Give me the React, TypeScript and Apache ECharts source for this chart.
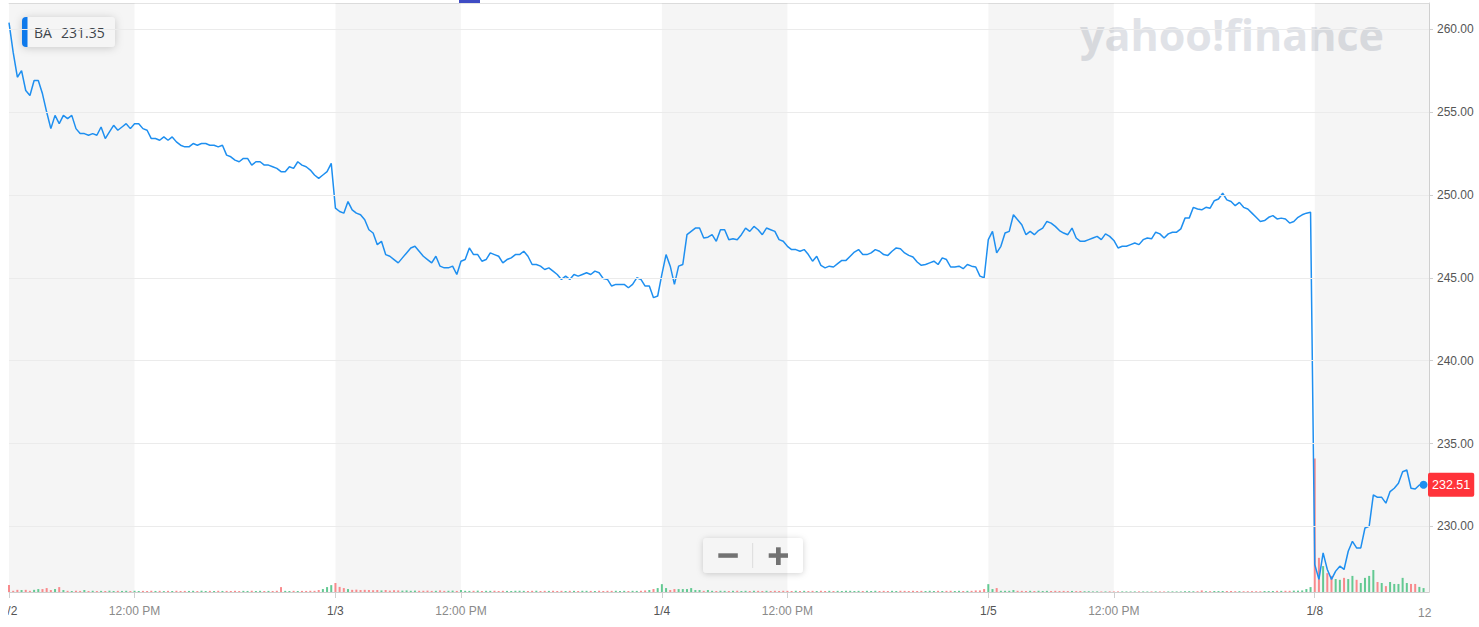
import React, { useEffect, useRef } from 'react';
import * as echarts from 'echarts';

// ---------- data ----------
const SYMBOL = 'BA';
const PREV_CLOSE_TEXT = '231.35';
const LAST_PRICE = 232.51;
const DAY_LABELS = ['1/2', '1/3', '1/4', '1/5', '1/8'];
const NOON_LABEL = '12:00 PM';
const BARS_PER_DAY = 78; // 5-minute bars, 9:30-16:00
const NOON_OFFSET = 30; // 12:00 PM = 30 bars after open
const Y_TICKS = [230, 235, 240, 245, 250, 255, 260];
const Y_MIN = 226.04;
const Y_MAX = 261.58;
const X_MAX = 339.3;
const VOL_MAX = 15000;

const PRICE_0102 = [
  260.4, 258.6, 257.1, 257.5, 256.3, 256.0, 256.9, 256.9, 256.1, 255.0,
  254.0, 254.8, 254.3, 254.8, 254.6, 254.8, 254.0, 253.7, 253.7, 253.6,
  253.7, 253.6, 254.1, 253.4, 253.8, 254.2, 253.9, 254.1, 254.3, 254.0,
  254.3, 254.3, 254.0, 253.9, 253.4, 253.4, 253.3, 253.5, 253.3, 253.5,
  253.2, 253.0, 252.9, 252.9, 253.1, 253.0, 253.1, 253.1, 253.0, 253.0,
  252.9, 253.0, 252.4, 252.3, 252.1, 252.0, 252.2, 252.2, 251.8, 252.0,
  252.0, 251.8, 251.8, 251.7, 251.6, 251.4, 251.4, 251.7, 251.6, 252.0,
  251.8, 251.7, 251.5, 251.2, 251.0, 251.2, 251.4, 251.9,
];
const PRICE_0103 = [
  249.2, 249.0, 248.9, 249.6, 249.1, 248.9, 248.8, 248.5, 247.9, 247.7,
  247.0, 247.2, 246.4, 246.3, 246.1, 245.9, 246.2, 246.5, 246.8, 246.9,
  246.6, 246.3, 246.1, 245.9, 246.3, 245.7, 245.6, 245.6, 245.7, 245.2,
  246.0, 246.1, 246.8, 246.4, 246.4, 246.0, 246.1, 246.5, 246.4, 246.3,
  245.9, 246.1, 246.2, 246.4, 246.4, 246.6, 246.3, 245.8, 245.8, 245.7,
  245.5, 245.6, 245.4, 245.2, 244.9, 245.1, 244.9, 245.2, 245.1, 245.2,
  245.3, 245.2, 245.4, 245.3, 244.95, 244.9, 244.5, 244.6, 244.6, 244.6,
  244.4, 244.6, 245.0, 244.9, 244.5, 244.5, 243.8, 243.9,
];
const PRICE_0104 = [
  245.2, 246.4, 245.7, 244.6, 245.7, 245.8, 247.6, 247.8, 248.0, 248.0,
  247.4, 247.45, 247.6, 247.2, 247.9, 247.9, 247.3, 247.35, 247.3, 247.6,
  248.0, 247.8, 248.1, 247.9, 247.6, 248.0, 247.9, 247.8, 247.3, 247.2,
  246.9, 246.7, 246.7, 246.6, 246.7, 246.4, 246.0, 246.3, 245.75, 245.6,
  245.7, 245.65, 245.85, 246.05, 246.05, 246.3, 246.55, 246.7, 246.4, 246.4,
  246.5, 246.7, 246.6, 246.4, 246.35, 246.6, 246.8, 246.75, 246.5, 246.35,
  246.25, 245.95, 245.75, 245.8, 245.9, 246.0, 245.8, 246.2, 246.1, 245.65,
  245.65, 245.7, 245.55, 245.8, 245.7, 245.65, 245.1, 245.0,
];
const PRICE_0105 = [
  247.3, 247.8, 246.5, 246.9, 247.7, 247.8, 248.8, 248.5, 248.2, 247.6,
  247.8, 247.6, 247.85, 248.0, 248.4, 248.3, 248.1, 247.85, 247.7, 247.6,
  248.0, 247.4, 247.2, 247.2, 247.3, 247.4, 247.5, 247.3, 247.65, 247.5,
  247.25, 246.8, 246.9, 246.9, 247.0, 247.1, 247.0, 247.3, 247.4, 247.35,
  247.75, 247.65, 247.4, 247.65, 247.75, 247.75, 247.95, 248.6, 248.6, 249.25,
  249.15, 249.1, 249.25, 249.2, 249.65, 249.75, 250.1, 249.7, 249.6, 249.35,
  249.55, 249.25, 249.15, 248.9, 248.65, 248.4, 248.45, 248.65, 248.75, 248.55,
  248.6, 248.55, 248.3, 248.4, 248.65, 248.8, 248.9, 248.95,
];
const PRICE_0108 = [
  227.7, 226.8, 228.4, 227.4, 226.8, 227.3, 227.6, 227.4, 228.5, 229.1,
  228.7, 228.7, 229.9, 230.0, 231.9, 231.75, 231.75, 231.4, 232.1, 232.3,
  232.6, 233.3, 233.4, 232.3, 232.25, 232.5, 232.51,
];

// volume in thousands of shares
const VOL_0102 = [
  180, 30, 55, 50, 55, 30, 55, 75, 75, 100, 50, 75, 125, 50, 30, 25, 32, 27, 50, 26,
  31, 24, 28, 26, 33, 25, 29, 27, 30, 24, 31, 26, 28, 25, 32, 27, 30, 23, 29, 26,
  31, 25, 28, 27, 30, 24, 33, 26, 29, 25, 31, 27, 28, 26, 30, 24, 29, 27, 32, 25,
  30, 26, 28, 25, 31, 125, 29, 26, 30, 25, 28, 27, 31, 30, 50, 75, 125, 175,
];
const VOL_0103 = [
  230, 130, 100, 75, 55, 60, 50, 55, 50, 45, 50, 40, 50, 35, 45, 40, 35, 40, 30, 35,
  30, 31, 35, 28, 30, 40, 29, 31, 35, 27, 50, 30, 28, 31, 35, 25, 30, 29, 32, 25,
  30, 28, 25, 31, 30, 29, 25, 30, 32, 25, 30, 28, 31, 25, 30, 26, 30, 29, 25, 31,
  30, 28, 25, 32, 26, 30, 29, 31, 25, 30, 26, 30, 28, 31, 40, 50, 75, 100,
];
const VOL_0104 = [
  200, 100, 50, 75, 75, 75, 75, 100, 50, 50, 30, 50, 30, 25, 31, 29, 25, 30, 32, 25,
  30, 26, 31, 29, 25, 30, 26, 31, 25, 30, 29, 25, 31, 26, 30, 25, 29, 26, 31, 25,
  30, 26, 29, 25, 31, 30, 25, 29, 26, 30, 25, 31, 26, 29, 25, 30, 26, 31, 29, 25,
  30, 26, 29, 25, 31, 26, 30, 25, 29, 31, 25, 30, 26, 29, 30, 40, 40, 75,
];
const VOL_0105 = [
  200, 75, 100, 30, 30, 30, 50, 30, 29, 25, 30, 26, 31, 25, 29, 26, 30, 25, 28, 24,
  27, 23, 26, 20, 20, 15, 16, 14, 15, 16, 14, 15, 16, 15, 14, 15, 16, 15, 14, 15,
  16, 15, 14, 15, 16, 15, 14, 20, 21, 19, 20, 40, 20, 21, 25, 24, 25, 26, 25, 20,
  21, 19, 20, 21, 20, 19, 25, 24, 26, 30, 29, 31, 30, 35, 34, 40, 75, 125,
];
const VOL_0108 = [
  3400, 870, 660, 480, 410, 330, 310, 360, 330, 410, 310, 230, 360, 410, 560, 255, 230, 150,
  255, 205, 205, 360, 230, 205, 205, 130, 100,
];

const PRICES = [PRICE_0102, PRICE_0103, PRICE_0104, PRICE_0105, PRICE_0108];
const VOLUMES = [VOL_0102, VOL_0103, VOL_0104, VOL_0105, VOL_0108];

// ---------- derived ----------
const linePoints: number[][] = [];
const volPoints: any[] = [];
let prev: number | null = null;
PRICES.forEach((day, d) => {
  day.forEach((p, i) => {
    const x = d * BARS_PER_DAY + i;
    linePoints.push([x, p]);
    const up = prev !== null && p >= prev;
    volPoints.push({
      value: [x, VOLUMES[d][i]],
      itemStyle: { color: up ? '#63c992' : '#f88a8c' },
    });
    prev = p;
  });
});
const lastPoint = linePoints[linePoints.length - 1];

const X_TICKS: number[] = [];
const X_LABELS: string[] = [];
DAY_LABELS.forEach((lab, d) => {
  const start = d * BARS_PER_DAY;
  const noon = start + NOON_OFFSET;
  if (start <= X_MAX) { X_TICKS.push(start); X_LABELS.push(lab); }
  if (noon <= X_MAX) { X_TICKS.push(noon); X_LABELS.push(NOON_LABEL); }
});
const shadeAreas = DAY_LABELS.map((_, d) => [
  { xAxis: d * BARS_PER_DAY },
  { xAxis: Math.min(d * BARS_PER_DAY + NOON_OFFSET, X_MAX) },
]);

const FONT = '"Liberation Sans", Arial, Helvetica, sans-serif';

export default function App() {
  const ref = useRef<HTMLDivElement>(null);
  useEffect(() => {
    const chart = echarts.init(ref.current!, null, { renderer: 'svg' });
    const option: any = {
      animation: false,
      textStyle: { fontFamily: FONT },
      grid: { left: 1, right: 50, top: 3, bottom: 35, containLabel: false, outerBoundsMode: 'none' },
      xAxis: [
        {
          type: 'value', min: 0, max: X_MAX, position: 'bottom',
          axisLine: { show: true, onZero: false, lineStyle: { color: '#cfcfcf', width: 1 } },
          axisTick: { show: true, customValues: X_TICKS, length: 6, lineStyle: { color: '#cfcfcf' } },
          axisLabel: {
            show: true, customValues: X_TICKS, margin: 13, showMinLabel: true, showMaxLabel: true,
            formatter: (v: number) => {
              const lab = X_LABELS[X_TICKS.indexOf(v)] || '';
              return lab === NOON_LABEL ? `{t|${lab}}` : `{d|${lab}}`;
            },
            rich: {
              t: { color: '#8a8a8a', fontSize: 12, fontFamily: FONT },
              d: { color: '#555', fontSize: 12, fontFamily: FONT },
            },
          },
          splitLine: { show: false },
        },
        {
          type: 'value', min: 0, max: X_MAX, position: 'top',
          axisLine: { show: true, onZero: false, lineStyle: { color: '#e4e4e4' } },
          axisTick: { show: false }, axisLabel: { show: false }, splitLine: { show: false },
        },
      ],
      yAxis: [
        {
          type: 'value', position: 'right', min: Y_MIN, max: Y_MAX,
          axisLine: { show: true, onZero: false, lineStyle: { color: '#cfcfcf' } },
          axisTick: { show: true, customValues: Y_TICKS, length: 4, lineStyle: { color: '#cfcfcf' } },
          axisLabel: {
            show: true, customValues: Y_TICKS, margin: 8, color: '#555', fontSize: 12, fontFamily: FONT,
            formatter: (v: number) => v.toFixed(2),
          },
          splitLine: { show: false },
        },
        { type: 'value', min: 0, max: VOL_MAX, show: false },
      ],
      series: [
        {
          type: 'line', name: 'grid', data: [], xAxisIndex: 0, yAxisIndex: 0, z: 1,
          silent: true, symbol: 'none',
          markArea: {
            silent: true,
            itemStyle: { color: 'rgba(0,0,0,0.04)' },
            data: shadeAreas,
          },
          markLine: {
            silent: true, symbol: 'none', label: { show: false },
            lineStyle: { color: '#ebebeb', type: 'solid', width: 1 },
            data: Y_TICKS.map((v) => ({ yAxis: v })),
          },
        },
        {
          type: 'bar', name: 'volume', xAxisIndex: 0, yAxisIndex: 1, barWidth: 2, z: 2,
          data: volPoints, silent: true,
        },
        {
          type: 'line', name: SYMBOL, xAxisIndex: 0, yAxisIndex: 0, z: 3, clip: false,
          data: linePoints, symbol: 'none', silent: true,
          lineStyle: { color: '#1e8ff0', width: 1.5 },
          markPoint: {
            silent: true,
            data: [{ coord: lastPoint, symbol: 'circle', symbolSize: 8, itemStyle: { color: '#1e8ff0' }, label: { show: false } }],
          },
        },
        {
          type: 'line', name: 'last', data: [], xAxisIndex: 0, yAxisIndex: 0, z: 5,
          silent: true, symbol: 'none', clip: false,
          markLine: {
            silent: true, symbol: 'none', z: 6,
            lineStyle: { color: 'rgba(0,0,0,0)', width: 1, type: 'solid' },
            label: {
              show: true, position: 'end', distance: -1, formatter: LAST_PRICE.toFixed(2),
              backgroundColor: '#ff333a', color: '#fff', fontSize: 12.5, fontFamily: FONT,
              padding: [6, 4, 5, 4], borderRadius: 2,
            },
            data: [{ yAxis: LAST_PRICE }],
          },
        },
      ],
      graphic: [
        { type: 'rect', x: 451, y: 0, shape: { width: 21, height: 3 }, style: { fill: '#3f4cc4' } },
        {
          type: 'text', x: 1072, y: 34,
          style: { text: 'yahoo!finance', fontSize: 43, fontWeight: 'bold', fontFamily: '"Open Sans"', fill: '#e0e2e7', verticalAlign: 'middle' },
        },
        {
          type: 'group', x: 14, y: 17,
          children: [
            { type: 'rect', shape: { x: 0, y: 0, width: 93, height: 30, r: 4 }, style: { fill: '#fff', shadowBlur: 8, shadowColor: 'rgba(0,0,0,0.18)', shadowOffsetY: 1 } },
            { type: 'rect', shape: { x: 0, y: 0, width: 5.5, height: 30, r: [4, 0, 0, 4] }, style: { fill: '#0f7ef5' } },
            { type: 'text', x: 12, y: 15, style: { text: SYMBOL, fontSize: 14, fontFamily: '"Open Sans"', fill: '#41474e', verticalAlign: 'middle' } },
            { type: 'text', x: 39, y: 15, style: { text: PREV_CLOSE_TEXT, fontSize: 14, fontFamily: '"Open Sans"', fill: '#41474e', verticalAlign: 'middle' } },
          ],
        },
        {
          type: 'group', x: 695, y: 538,
          children: [
            { type: 'rect', shape: { x: 0, y: 0, width: 100, height: 35, r: 4 }, style: { fill: '#fff', shadowBlur: 6, shadowColor: 'rgba(0,0,0,0.18)', shadowOffsetY: 1 } },
            { type: 'line', shape: { x1: 49.7, y1: 5, x2: 49.7, y2: 30 }, style: { stroke: '#e6e6e6', lineWidth: 1 } },
            { type: 'rect', shape: { x: 15.3, y: 15.3, width: 19.5, height: 4.5 }, style: { fill: '#777' } },
            { type: 'rect', shape: { x: 65.7, y: 15.3, width: 19.3, height: 4.5 }, style: { fill: '#777' } },
            { type: 'rect', shape: { x: 73, y: 9.3, width: 4.7, height: 17.7 }, style: { fill: '#777' } },
          ],
        },
        {
          type: 'text', x: 1410, y: 613,
          style: { text: '12', fontSize: 12, fontFamily: FONT, fill: '#8a8a8a', verticalAlign: 'middle' },
        },
      ],
    };
    chart.setOption(option);
    return () => chart.dispose();
  }, []);
  return (
    <div style={{ position: 'absolute', left: 8, top: 0, width: 1471, height: 627, overflow: 'hidden' }}>
      <div ref={ref} style={{ width: 1471, height: 627 }} />
    </div>
  );
}
